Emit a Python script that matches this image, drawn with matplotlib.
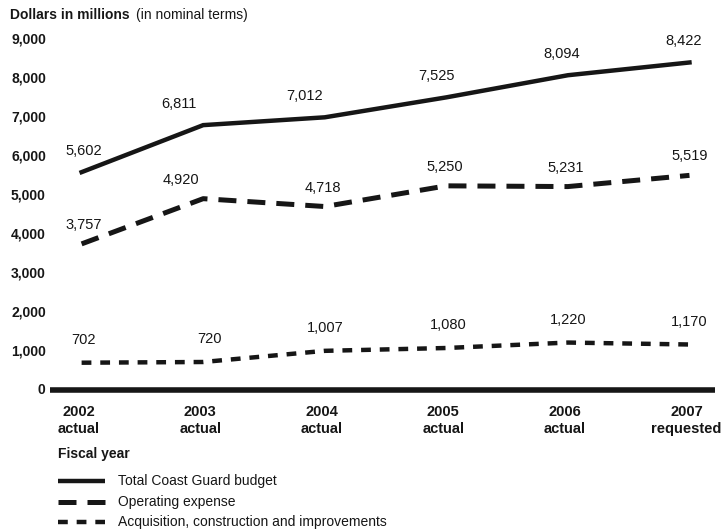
import matplotlib
matplotlib.use("Agg")
import matplotlib.pyplot as plt
from matplotlib.lines import Line2D

plt.rcParams['font.family'] = ['Liberation Sans', 'DejaVu Sans']

years = ["2002", "2003", "2004", "2005", "2006", "2007"]
statuses = ["actual", "actual", "actual", "actual", "actual", "requested"]
total_budget = [5602, 6811, 7012, 7525, 8094, 8422]
operating = [3757, 4920, 4718, 5250, 5231, 5519]
acquisition = [702, 720, 1007, 1080, 1220, 1170]
y_ticks = [0, 1000, 2000, 3000, 4000, 5000, 6000, 7000, 8000, 9000]
series_names = ["Total Coast Guard budget", "Operating expense",
                "Acquisition, construction and improvements"]

W, H = 724, 532
fig = plt.figure(figsize=(W / 100, H / 100), dpi=100)
fig.patch.set_facecolor("white")

# axes spanning pixel x 50..715, y(0)=390 from top, y(9000)=40 from top
ax_left, ax_right = 50, 715
y0_px, y9_px = 390, 40
ax = fig.add_axes([ax_left / W, (H - y0_px) / H, (ax_right - ax_left) / W,
                   (y0_px - y9_px) / H])
ax.set_xlim(-0.26, 5.21)
ax.set_ylim(0, 9000)
ax.axis("off")

col = "#161616"
x = list(range(len(years)))

ax.plot(x, total_budget, color=col, lw=3.2, solid_joinstyle="miter", clip_on=False)
ax.plot(x, operating, color=col, lw=3.6, linestyle=(0, (3.6, 2.2)),
        dash_capstyle="butt", clip_on=False)
ax.plot(x, acquisition, color=col, lw=3.2, linestyle=(0, (2.2, 2.0)),
        dash_capstyle="butt", clip_on=False)

# zero line
ax.plot([-0.26, 5.21], [0, 0], color=col, lw=4, solid_capstyle="butt", clip_on=False)

lab_fs = 10.5
total_dx = [2, -24, -20, -10, -6, -6]
op_dx = [2, -22, -2, -2, -2, 0]
acq_dx = [2, 6, 0, 2, 0, 0]
for i in x:
    ax.annotate(f"{total_budget[i]:,}", (i, total_budget[i]), xytext=(total_dx[i], 14),
                textcoords="offset pixels", ha="center", va="bottom", fontsize=lab_fs, color=col)
    ax.annotate(f"{operating[i]:,}", (i, operating[i]), xytext=(op_dx[i], 12),
                textcoords="offset pixels", ha="center", va="bottom", fontsize=lab_fs, color=col)
    ax.annotate(f"{acquisition[i]:,}", (i, acquisition[i]), xytext=(acq_dx[i], 16),
                textcoords="offset pixels", ha="center", va="bottom", fontsize=lab_fs, color=col)

# y tick labels
for v in y_ticks:
    if v == 0:
        ax.annotate("0", (-0.26, v), xytext=(-5, 0), textcoords="offset pixels",
                    ha="right", va="center", fontsize=10, fontweight="bold", color=col,
                    annotation_clip=False)
    else:
        ax.annotate(f"{v:,}", (-0.26, v), xytext=(-39, 0), textcoords="offset pixels",
                    ha="left", va="center", fontsize=10, fontweight="bold", color=col,
                    annotation_clip=False)

# x tick labels
for i in x:
    ax.annotate(f"{years[i]}\n{statuses[i]}", (i, 0), xytext=(-3, -15),
                textcoords="offset pixels", ha="center", va="top", fontsize=10.5,
                fontweight="bold", color=col, linespacing=1.25, annotation_clip=False)

# header
fig.text(10 / W, 1 - 15 / H, "Dollars in millions", fontsize=10, fontweight="bold",
         color=col, va="center", ha="left")
fig.text(136 / W, 1 - 15 / H, "(in nominal terms)", fontsize=10,
         color=col, va="center", ha="left")

# legend
fig.text(58 / W, 1 - 454 / H, "Fiscal year", fontsize=10, fontweight="bold",
         color=col, va="center", ha="left")
styles = [dict(lw=3.2, ls="-"), dict(lw=3.6, ls=(0, (3.6, 2.2))), dict(lw=3.2, ls=(0, (2.2, 2.0)))]
rows_y = [481, 502, 522]
for name, st, ry in zip(series_names, styles, rows_y):
    yy = 1 - ry / H
    fig.add_artist(Line2D([58 / W, 105 / W], [yy, yy], color=col, lw=st["lw"],
                          linestyle=st["ls"], dash_capstyle="butt", solid_capstyle="butt"))
    fig.text(118 / W, yy, name, fontsize=10, color=col, va="center", ha="left")

fig.savefig("out.png", dpi=100, facecolor="white")
